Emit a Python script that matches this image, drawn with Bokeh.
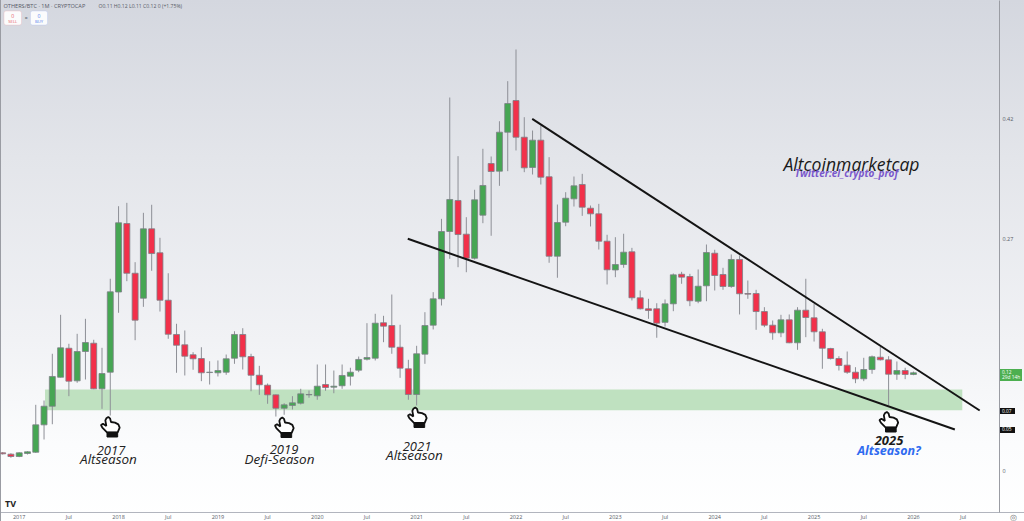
from bokeh.plotting import figure
from bokeh.models import ColumnDataSource, FixedTicker, Label, Range1d, BoxAnnotation, Div
from bokeh.layouts import column
from bokeh.embed import file_html
from bokeh.resources import INLINE

# Monthly OTHERS/BTC candles: index 0 = Jan 2017
months = list(range(-2, 109))
opens = [.0211,.0195,.0167,.0203,.0218,.0545,.0767,.1113,.1459,.1070,.1420,.1519,.0975,.1173,.2130,.2947,.2354,.2056,.2884,.2598,
         .2032,.1623,.1500,.1381,.1336,.1169,.1166,.1173,.1340,.1623,.1360,.1137,.1018,.0903,.0743,.0776,.0803,.0903,.0891,.1026,
         .0994,.1011,.1125,.1197,.1328,.1340,.1763,.1730,.1471,.1214,.0907,.1388,.1734,.2049,.2852,.3222,.2820,.2533,.3047,.3663,
         .3572,.4037,.4415,.3977,.3616,.3942,.3505,.2557,.2963,.3242,.3413,.3130,.3063,.2736,.2393,.2458,.2610,.2061,.1930,.1930,
         .1768,.1989,.2342,.2315,.2020,.2204,.2593,.2339,.2196,.2518,.2112,.2112,.1897,.1734,.1643,.1798,.1524,.1913,.1822,.1655,
         .1456,.1336,.1257,.1173,.1094,.1205,.1352,.1321,.1149,.1193,.1146]
highs = [.0218,.0206,.0218,.0230,.0784,.0835,.1393,.1858,.1512,.1631,.1810,.1560,.1464,.2288,.3154,.3194,.2486,.3075,.3171,.2777,
         .2354,.1751,.1671,.1412,.1471,.1304,.1313,.1384,.1662,.1698,.1393,.1249,.1038,.0907,.0803,.0887,.0975,.0955,.1265,.1265,
         .1193,.1265,.1226,.1360,.1758,.1870,.1846,.2100,.1739,.1321,.1488,.1889,.2128,.3003,.4451,.3751,.3023,.3350,.3839,.3747,
         .4168,.4646,.5024,.4216,.4057,.4117,.3739,.3174,.3321,.3508,.3540,.3162,.3182,.2813,.2784,.2825,.2657,.2148,.2049,.1996,
         .2041,.2351,.2371,.2347,.2399,.2697,.2634,.2419,.2578,.2566,.2267,.2156,.1949,.1790,.1858,.1862,.1949,.2288,.1989,.1691,
         .1464,.1364,.1420,.1233,.1345,.1372,.1480,.1364,.1301,.1226,.1181]
lows = [.0191,.0152,.0159,.0191,.0211,.0370,.0552,.1110,.0887,.1047,.1086,.0970,.0736,.0656,.1882,.2259,.1555,.1953,.2383,.1897,
        .1572,.1166,.1134,.1202,.1066,.1026,.1122,.1142,.1273,.1205,.0946,.0903,.0796,.0644,.0665,.0728,.0788,.0868,.0844,.0951,
        .0922,.0975,.1014,.1173,.1313,.1313,.1531,.1393,.1106,.0844,.0776,.1273,.1683,.1969,.2526,.2426,.2366,.2518,.2951,.2801,
        .3397,.3572,.3819,.3560,.3532,.3413,.2479,.2300,.2915,.3150,.3039,.2912,.2637,.2220,.2307,.2419,.2029,.1921,.1810,.1584,
        .1718,.1901,.2228,.1961,.1996,.2020,.2148,.2156,.2180,.1862,.2049,.1679,.1710,.1560,.1591,.1519,.1440,.1591,.1539,.1214,
        .1325,.1193,.1154,.1042,.1066,.1154,.1313,.0776,.1082,.1090,.1137]
closes = [.0199,.0167,.0211,.0223,.0545,.0767,.1122,.1464,.1066,.1420,.1527,.0975,.1157,.2132,.2956,.2354,.1794,.2884,.2589,.2032,
          .1626,.1495,.1364,.1333,.1166,.1173,.1193,.1333,.1623,.1357,.1137,.1023,.0903,.0743,.0784,.0808,.0915,.0907,.1006,.0990,
          .1006,.1134,.1173,.1325,.1348,.1758,.1722,.1471,.1221,.0907,.1393,.1730,.2049,.2852,.3234,.2816,.2533,.3230,.3401,.3568,
          .4037,.4379,.3977,.3612,.3942,.3500,.2557,.2959,.3249,.3397,.3142,.3063,.2736,.2395,.2458,.2605,.2061,.1930,.1909,.1758,
          .1989,.2335,.2307,.2025,.2199,.2601,.2327,.2196,.2518,.2109,.2104,.1897,.1734,.1643,.1798,.1524,.1913,.1826,.1655,.1459,
          .1336,.1253,.1173,.1094,.1205,.1357,.1321,.1149,.1193,.1146,.1166]

x_tick_months = list(range(0, 115, 6))
x_tick_labels = ["2017","Jul","2018","Jul","2019","Jul","2020","Jul","2021","Jul","2022","Jul",
                 "2023","Jul","2024","Jul","2025","Jul","2026","Jul"]
y_ticks = {0.42: "0.42", 0.2757: "0.27", 0.0: "0"}

# wedge lines and support zone: (month, price)
upper_wedge = ([61.96, 116.0], [.4197, .0716])
lower_wedge = ([46.93, 113.0], [.2765, .0489])
zone_months = (3.12, 113.9)
zone_prices = (.0720, .0967)

W, H = 1024, 521
FRAME_W, FRAME_H = 999, 512
x0, dx = 18.7, 8.28          # px of Jan 2017, px per month
y0, dy = 470.0, 838.0        # px of price 0, px per unit
def X(px): return (px - x0) / dx
def Y(px): return (y0 - px) / dy

GRAD = ("linear-gradient(#9a9ca3,#9a9ca3) 0 0/1px 100% no-repeat,"
        "linear-gradient(#b2b5be,#b2b5be) 0 512px/100% 1px no-repeat,"
        "linear-gradient(#d4d7df 0%,#e3e5ea 30%,#f1f2f5 65%,#fbfcfd 85%,#ffffff 100%)")

p = figure(width=W, height=H, frame_width=FRAME_W, frame_height=FRAME_H,
           x_range=Range1d(X(0), X(FRAME_W)), y_range=Range1d(Y(FRAME_H), Y(0)),
           y_axis_location="right", toolbar_location=None, output_backend="svg",
           min_border=0, min_border_right=W-FRAME_W, min_border_bottom=H-FRAME_H, min_border_left=0, min_border_top=0)
p.styles = {"background": GRAD}
p.background_fill_color = None
p.border_fill_color = None
p.outline_line_color = None
p.grid.visible = False

for ax in (p.xaxis[0], p.yaxis[0]):
    ax.major_label_text_font = "Open Sans"
    ax.major_label_text_font_size = "5.5px"
    ax.major_label_text_color = "#555a66"
    ax.major_tick_line_color = None
    ax.minor_tick_line_color = None
    ax.major_tick_out = 0
    ax.major_tick_in = 0
    ax.minor_tick_out = 0
    ax.minor_tick_in = 0

xa = p.xaxis[0]
xa.ticker = FixedTicker(ticks=x_tick_months)
xa.major_label_overrides = dict(zip(x_tick_months, x_tick_labels))
xa.axis_line_color = None
xa.major_label_standoff = 0

ya = p.yaxis[0]
ya.ticker = FixedTicker(ticks=list(y_ticks))
ya.major_label_overrides = dict(y_ticks)
ya.axis_line_color = "#9a9ca3"
ya.major_label_standoff = 3

p.quad(left=[zone_months[0]], right=[zone_months[1]], bottom=[zone_prices[0]], top=[zone_prices[1]],
       fill_color="#bfe1c0", line_color=None)

colors = ["#46a653" if c >= o else "#f2304a" for o, c in zip(opens, closes)]
src = ColumnDataSource(dict(x=months, o=opens, h=highs, l=lows, c=closes, col=colors))
p.segment("x", "h", "x", "l", source=src, line_color="#8d8f96", line_width=1)
p.vbar(x="x", width=0.72, bottom="o", top="c", source=src, fill_color="col", line_color="#7c7f86", line_width=0.8)

p.line(upper_wedge[0], upper_wedge[1], line_color="#141414", line_width=2)
p.line(lower_wedge[0], lower_wedge[1], line_color="#141414", line_width=2)

def lab(px, py, text, size, color="#1c1c1c", style="normal", align="center", font="Open Sans", **kw):
    l = Label(x=X(px), y=Y(py), text=text, text_font_size=f"{size}px", text_color=color,
              text_font_style=style, text_align=align, text_baseline="middle", text_font=font, **kw)
    p.add_layout(l)
    return l

# header
lab(3, 5, "OTHERS/BTC · 1M · CRYPTOCAP", 5.6, "#555a66", align="left")
lab(98, 5, "O0.11 H0.12 L0.11 C0.12 0 (+1.75%)", 5.1, "#555a66", align="left")
for l, r, col, top, bot in [(3.5, 21, "#f0a8b0", "0", "SELL"), (30, 47, "#a9bdf5", "0", "BUY")]:
    p.add_layout(BoxAnnotation(left=X(l), right=X(r), top=Y(10.5), bottom=Y(24.5),
                               fill_color="#ffffff", fill_alpha=0.9, line_color=col, line_width=1, border_radius=2))
    tc = "#e8596a" if bot == "SELL" else "#5a82ee"
    lab((l + r) / 2, 15, top, 5.2, tc)
    lab((l + r) / 2, 20.5, bot, 4.2, tc)
lab(25.7, 17.5, "=", 5, "#555a66")

# pointing-hand pictogram, local coords in 1/3 px
hand_outline = [(16,4),(22,0),(27,4),(30,15),(42,17),(52,22),(56,32),(50,46),(18,46),(4,32),(0,24),(6,20),(16,27),(13,10)]
hand_cuff = [(18,46),(50,46),(50,60),(18,60)]
for hx, hy in [(100.5, 416.5), (274.5, 417), (407.5, 407), (879, 411.5)]:
    p.patch([X(hx + a / 3) for a, b in hand_outline], [Y(hy + b / 3) for a, b in hand_outline],
            fill_color="#ffffff", line_color="#111111", line_width=1.8)
    p.patch([X(hx + a / 3) for a, b in hand_cuff], [Y(hy + b / 3) for a, b in hand_cuff],
            fill_color="#111111", line_color="#111111", line_width=1)

# annotations
lab(851, 163, "Altcoinmarketcap", 17.6, "#1a1a1a", "italic")
lab(846, 172.5, "Twitter:el_crypto_prof", 10, "#7a58cc", "bold italic")
lab(110.5, 450, "2017", 13, "#222222", "italic")
lab(108, 458, "Altseason", 13.5, "#222222", "italic")
lab(283.5, 449, "2019", 13, "#222222", "italic")
lab(279, 458, "Defi-Season", 13.5, "#222222", "italic")
lab(416.5, 446, "2021", 13, "#222222", "italic")
lab(414, 454, "Altseason", 13.5, "#222222", "italic")
lab(888.5, 440, "2025", 13, "#1a1a1a", "bold italic")
lab(888.5, 450, "Altseason?", 12.5, "#2f6bf0", "bold italic")
lab(4.5, 503, "TV", 9, "#222222", "bold", align="left")

# price tags in the axis gutter
def tag(left, top, w, h, html, bg, color="#ffffff", fs=4.8):
    return Div(text=html, width=w, height=h, margin=0,
               styles={"position": "absolute", "left": f"{left}px", "top": f"{top}px",
                       "background": bg, "color": color, "font-size": f"{fs}px", "line-height": "5.5px",
                       "font-family": "Open Sans", "padding-left": "2px", "padding-top": "0.5px", "z-index": "5"})
tags = [tag(1000, 369, 22, 12, "0.12<br>29d 14h", "#4caf50"),
        tag(1000, 408, 15, 6, "0.07", "#111111"),
        tag(1000, 426.5, 15, 6, "0.05", "#111111"),
        tag(1008, 513, 9, 8, "◎", "transparent", "#777777", 8)]

layout = column(p, *tags, spacing=0, margin=0)
open("out.html", "w").write(file_html(layout, INLINE))
